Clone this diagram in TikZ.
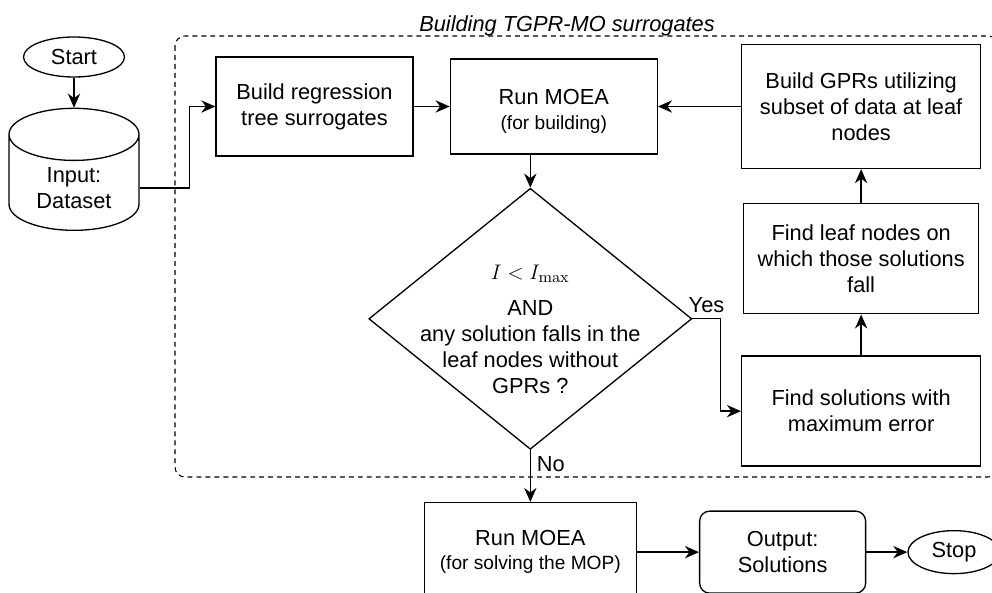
\documentclass[tikz,border=0pt]{standalone}
\usepackage[no-math]{fontspec}
\setmainfont{Liberation Sans}
\usetikzlibrary{positioning, arrows.meta,
shapes.geometric, % for the cylinder, the diamond and the ellipses
calc
}
\newcommand{\flowfont}{\fontsize{12.4}{14.8}\selectfont}
\newcommand{\subfont}{\fontsize{10.9}{13}\selectfont}
\tikzset{%
  block/.style={draw, rectangle, align=center, inner sep=2pt},
  terminal/.style={draw, ellipse, inner sep=1pt},
  dbase/.style={draw, cylinder, shape border rotate=90, aspect=0.6, align=center}, % the data store
  decision/.style={draw, diamond, aspect=1.24, inner sep=-0.4cm, align=center},
  group/.style={dash pattern=on 2.8pt off 2.3pt, line width=0.6pt, rounded corners=0.2cm}
}

\begin{document}
\begin{tikzpicture}[font=\flowfont, line width=0.75pt, >={Stealth[length=8pt, width=7pt]}]
\useasboundingbox (0,0) rectangle (19.84,-11.84);

\node[terminal, minimum width=2.02cm, minimum height=0.8cm] (start) at (1.48,-1.14) {Start};
\node[dbase, below=0.6cm of start, minimum width=2.6cm, minimum height=2.44cm] (data) {Input:\\Dataset};

\node[block, minimum width=3.94cm, minimum height=1.98cm] (reg) at (6.29,-2.13) {Build regression\\tree surrogates};
\node[block, right=0.72cm of reg, minimum width=4.14cm, minimum height=1.9cm] (run1) {\rule{0pt}{0.5cm}Run MOEA\\[-1pt]{\subfont (for building)}};
\node[block, right=1.66cm of run1, minimum width=4.78cm, minimum height=2.48cm] (gpr) {Build GPRs utilizing\\subset of data at leaf\\nodes};
\node[block, below=0.68cm of gpr, minimum width=4.7cm, minimum height=2.2cm] (leaf) {Find leaf nodes on\\which those solutions\\fall};
\node[block, below=0.82cm of leaf, minimum width=4.78cm, minimum height=2.2cm] (sol) {Find solutions with\\maximum error};

\node[decision, below=0.66cm of run1, xshift=-0.47cm, minimum width=6.46cm, minimum height=5.22cm] (dec)
  {\rule{0pt}{0.7cm}$I<I_{\max}$\\[0.2cm]AND\\any solution falls in the\\leaf nodes without\\GPRs ?};

\node[block, below=1.04cm of dec, minimum width=4.24cm, minimum height=1.98cm] (run2) {Run MOEA\\[-1pt]{\subfont (for solving the MOP)}};
\node[block, rounded corners=0.2cm, right=1.24cm of run2, minimum width=3.32cm, minimum height=1.64cm] (out) {Output:\\Solutions};
\node[terminal, right=0.82cm of out, minimum width=1.84cm, minimum height=0.86cm] (stop) {Stop};

\coordinate (g1) at (3.5,-0.72);
\coordinate (g2) at (19.96,-9.54);
\draw[group] (g1) rectangle (g2);
\node[anchor=base, font=\flowfont\itshape] (title) at (11.34,-0.64) {Building TGPR-MO surrogates};

\draw[->] (start) -- (data);
\draw[->] (data.east) -- ++(1,0) |- (reg.west);
\draw[->] (reg) -- (run1);
\draw[->] (gpr) -- (run1);
\draw[->] (run1.south -| dec.north) -- (dec.north);
\draw[->] (dec.east) -- node[above] (yes) {Yes} ++(0.56,0) |- (sol.west);
\draw[->] (sol) -- (leaf);
\draw[->] (leaf) -- (gpr);
\draw[->] (dec.south) -- node[right, pos=0.27] (no) {No} (run2.north);
\draw[->] (run2) -- (out);
\draw[->] (out) -- (stop);

\end{tikzpicture}
\end{document}
